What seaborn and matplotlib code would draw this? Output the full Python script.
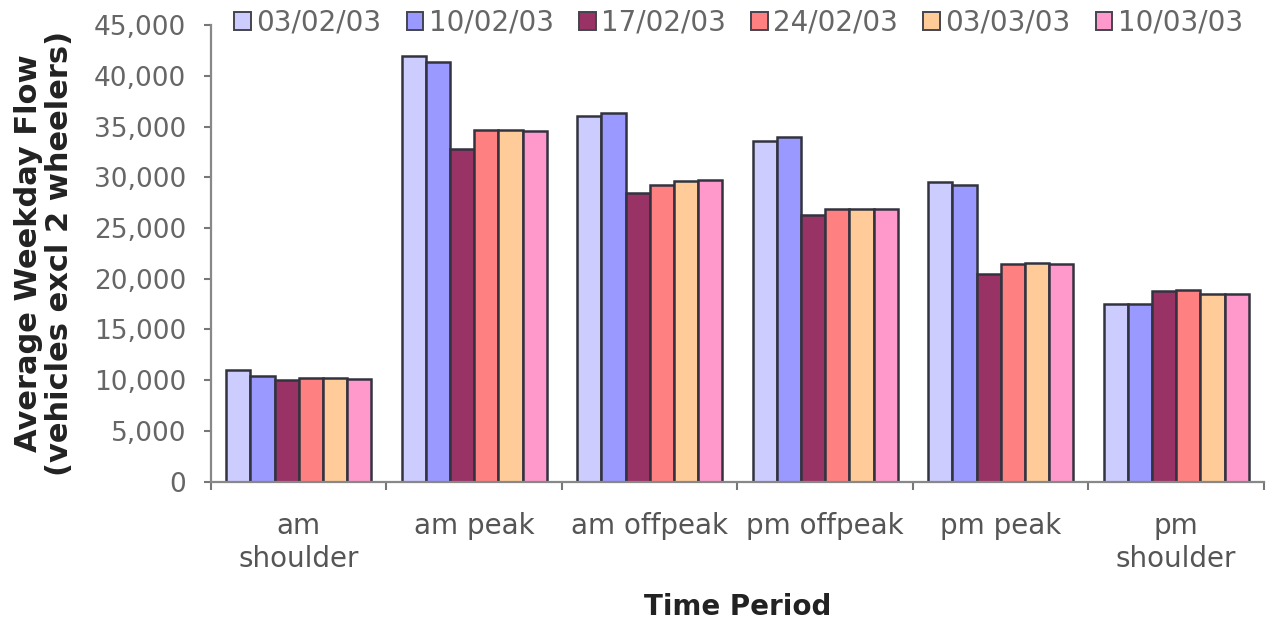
import matplotlib
matplotlib.use("Agg")
import matplotlib.pyplot as plt
import pandas as pd
import seaborn as sns
from matplotlib.patches import Patch
from matplotlib.ticker import FuncFormatter, FixedLocator

# Time periods on the x axis and the survey weeks shown as bar groups
periods = ["am\nshoulder", "am peak", "am offpeak", "pm offpeak", "pm peak", "pm\nshoulder"]
weeks = ["03/02/03", "10/02/03", "17/02/03", "24/02/03", "03/03/03", "10/03/03"]

# Average weekday flow per period, one list per week
flow_03feb = [11000, 41950, 36000, 33600, 29500, 17550]
flow_10feb = [10400, 41350, 36300, 34000, 29250, 17550]
flow_17feb = [10050, 32800, 28450, 26300, 20450, 18800]
flow_24feb = [10200, 34650, 29250, 26900, 21450, 18900]
flow_03mar = [10200, 34650, 29600, 26900, 21550, 18500]
flow_10mar = [10100, 34550, 29750, 26900, 21450, 18500]

week_colors = ["#CCCCFF", "#9999FF", "#993366", "#FF8080", "#FFCC99", "#FF99CC"]

y_ticks = list(range(0, 45001, 5000))

series = [flow_03feb, flow_10feb, flow_17feb, flow_24feb, flow_03mar, flow_10mar]
rows = []
for week, values in zip(weeks, series):
    for period, v in zip(periods, values):
        rows.append({"period": period, "week": week, "flow": v})
df = pd.DataFrame(rows)

sns.set_style("white")
plt.rcParams["font.family"] = ["DejaVu Sans"]

fig = plt.figure(figsize=(12.67, 6.21), dpi=100)
ax = fig.add_axes([0.1665, 0.2243, 0.8311, 0.7354])

palette = dict(zip(weeks, week_colors))
sns.barplot(
    data=df, x="period", y="flow", hue="week",
    order=periods, hue_order=weeks, palette=palette,
    width=0.826, gap=0, saturation=1,
    edgecolor="#333340", linewidth=1.8,
    legend=False, ax=ax,
)

ax.set_xlim(-0.5, len(periods) - 0.5)
ax.set_ylim(0, 45000)
ax.set_yticks(y_ticks)
ax.yaxis.set_major_formatter(FuncFormatter(lambda v, _: f"{v:,.0f}"))

# Category labels at centres, tick marks at category boundaries
ax.set_xticks(range(len(periods)))
ax.set_xticklabels(periods)
ax.xaxis.set_minor_locator(FixedLocator([i - 0.5 for i in range(len(periods) + 1)]))
ax.tick_params(axis="x", which="major", length=0, pad=22, labelsize=20, labelcolor="#555555")
ax.tick_params(axis="x", which="minor", length=6, width=1.5, color="#777777", direction="out", bottom=True)
ax.tick_params(axis="y", which="major", length=5, width=1.5, color="#777777", direction="out",
               pad=13, labelsize=19, labelcolor="#666666", left=True)

for side in ("top", "right"):
    ax.spines[side].set_visible(False)
for side in ("left", "bottom"):
    ax.spines[side].set_color("#888888")
    ax.spines[side].set_linewidth(1.6)

ax.set_xlabel("Time Period", fontsize=20, fontweight="bold", color="#222222", labelpad=15)
ax.set_ylabel("Average Weekday Flow\n(vehicles excl 2 wheelers)", fontsize=22,
              fontweight="bold", color="#222222", labelpad=14, linespacing=1.1)

handles = [Patch(facecolor=c, edgecolor="#444450", linewidth=1.4) for c in week_colors]
fig.legend(handles, weeks, loc="center", bbox_to_anchor=(0.583, 0.963), ncol=6,
           frameon=False, fontsize=20, handlelength=0.6, handleheight=0.6,
           handletextpad=0.2, columnspacing=0.9, labelcolor="#666666",
           borderaxespad=0, borderpad=0)

fig.savefig("out.png", dpi=100, facecolor="white")
